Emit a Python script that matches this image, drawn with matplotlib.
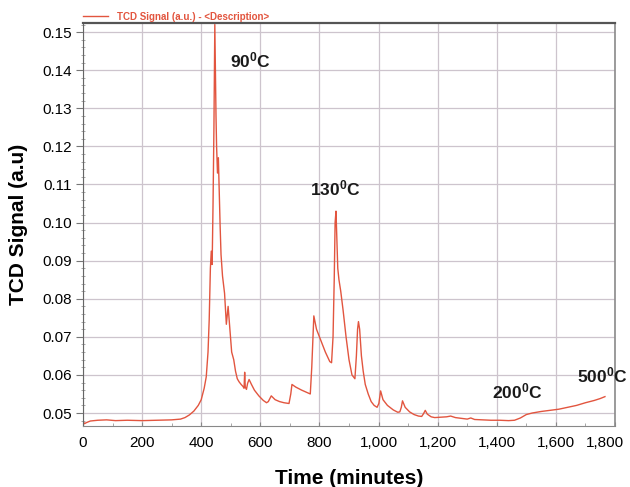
import matplotlib
matplotlib.use("Agg")
from matplotlib import pyplot as plt
from matplotlib.ticker import MultipleLocator, FuncFormatter

# TCD trace (time in minutes, signal in a.u.)
time = [0, 5, 12, 25, 50, 80, 110, 150, 200, 250, 300, 330, 345, 360, 375,
        390, 400, 410, 417, 423, 427, 431, 434, 437, 440, 443, 446, 448, 450,
        452, 455, 458, 461, 464, 467, 472, 479, 485, 491, 497, 503, 510, 516,
        522, 528, 535, 541, 545, 547, 549, 553, 557, 562, 570, 580, 595, 610,
        621, 627, 637, 650, 665, 680, 697, 703, 707, 720, 740, 760, 769, 774,
        778, 781, 790, 805, 820, 835, 841, 846, 850, 853, 856, 859, 862, 866,
        872, 880, 890, 900, 910, 920, 925, 929, 932, 936, 942, 948, 955, 965,
        975, 985, 995, 1001, 1007, 1015, 1030, 1050, 1065, 1072, 1077, 1081,
        1090, 1105, 1120, 1135, 1146, 1152, 1158, 1165, 1178, 1190, 1210, 1230,
        1244, 1260, 1280, 1300, 1312, 1325, 1350, 1380, 1410, 1440, 1460, 1480,
        1500, 1520, 1550, 1580, 1610, 1640, 1670, 1700, 1730, 1750, 1766]
signal = [0.0478, 0.0472, 0.0475, 0.0479, 0.0481, 0.0482, 0.0480, 0.0481,
          0.0480, 0.0481, 0.0482, 0.0484, 0.0488, 0.0495, 0.0505, 0.0520,
          0.0535, 0.0565, 0.0595, 0.0660, 0.0745, 0.0880, 0.0925, 0.0890,
          0.1050, 0.1250, 0.1520, 0.1400, 0.1280, 0.1200, 0.1130, 0.1170,
          0.1080, 0.0990, 0.0916, 0.0860, 0.0814, 0.0733, 0.0780, 0.0720,
          0.0660, 0.0640, 0.0610, 0.0590, 0.0582, 0.0575, 0.0570, 0.0565,
          0.0607, 0.0568, 0.0562, 0.0578, 0.0588, 0.0575, 0.0560, 0.0545,
          0.0533, 0.0527, 0.0530, 0.0545, 0.0535, 0.0530, 0.0527, 0.0525,
          0.0550, 0.0575, 0.0568, 0.0560, 0.0553, 0.0550, 0.0620, 0.0700,
          0.0755, 0.0720, 0.0690, 0.0660, 0.0635, 0.0632, 0.0700, 0.0850,
          0.1000, 0.1030, 0.0950, 0.0880, 0.0850, 0.0820, 0.0770, 0.0700,
          0.0640, 0.0600, 0.0590, 0.0650, 0.0720, 0.0740, 0.0720, 0.0650,
          0.0610, 0.0575, 0.0550, 0.0530, 0.0520, 0.0515, 0.0525, 0.0558,
          0.0535, 0.0520, 0.0508, 0.0502, 0.0503, 0.0515, 0.0532, 0.0515,
          0.0503, 0.0496, 0.0492, 0.0491, 0.0498, 0.0507, 0.0497, 0.0490,
          0.0488, 0.0489, 0.0490, 0.0492, 0.0488, 0.0486, 0.0484, 0.0487,
          0.0483, 0.0482, 0.0481, 0.0481, 0.0480, 0.0481, 0.0487, 0.0496,
          0.0500, 0.0504, 0.0507, 0.0510, 0.0515, 0.0520, 0.0527, 0.0533,
          0.0538, 0.0543]

# temperature labels and where they sit
temp_labels = ["90$^{0}$C", "130$^{0}$C", "200$^{0}$C", "500$^{0}$C"]
temp_x = [498, 854, 1470, 1671]
temp_y = [0.1425, 0.109, 0.0556, 0.0599]
temp_ha = ["left", "center", "center", "left"]

x_max = 1800

plt.rcParams["font.family"] = ["Liberation Sans", "DejaVu Sans"]
plt.rcParams["mathtext.fontset"] = "custom"
plt.rcParams["mathtext.rm"] = "Liberation Sans:bold"
plt.rcParams["mathtext.it"] = "Liberation Sans:bold"
plt.rcParams["mathtext.bf"] = "Liberation Sans:bold"

red = "#E2553F"

fig = plt.figure(figsize=(6.3, 4.87), dpi=100)
ax = fig.add_axes([83 / 630, 1 - 426 / 487, 532 / 630, 403 / 487])

ax.plot(time, signal, color=red, linewidth=1.0, label="TCD Signal (a.u.) - <Description>")

ax.set_xlim(0, x_max)
ax.set_ylim(0.04659, 0.1524)
ax.xaxis.set_major_locator(MultipleLocator(200))
ax.xaxis.set_minor_locator(MultipleLocator(100))
ax.yaxis.set_major_locator(MultipleLocator(0.01))
ax.yaxis.set_minor_locator(MultipleLocator(0.002))
# the last label is drawn separately, nudged left so it stays in the picture
ax.xaxis.set_major_formatter(FuncFormatter(
    lambda v, p: "" if round(v) >= x_max else "{:,}".format(int(round(v)))))
ax.yaxis.set_major_formatter(FuncFormatter(lambda v, p: "{:.2f}".format(v)))

ax.tick_params(axis="x", which="major", direction="in", length=3, labelsize=11, pad=7, color="#888888")
ax.tick_params(axis="x", which="minor", direction="in", length=2, color="#999999")
ax.tick_params(axis="y", which="major", direction="out", length=5, labelsize=11, pad=3, color="#777777")
ax.tick_params(axis="y", which="minor", direction="inout", length=3, color="#999999")

ax.annotate("{:,}".format(x_max), xy=(x_max, 0), xycoords=("data", "axes fraction"),
            xytext=(-7, -7), textcoords="offset points", ha="center", va="top",
            fontsize=11, color="black")

ax.grid(which="major", color="#cdc4cd", linewidth=0.9)
ax.set_axisbelow(True)

ax.spines["top"].set_color("#555555")
ax.spines["top"].set_linewidth(1.6)
ax.spines["right"].set_color("#8a8a8a")
ax.spines["right"].set_linewidth(1.2)
ax.spines["left"].set_color("#666666")
ax.spines["bottom"].set_color("#888888")

ax.set_xlabel("Time (minutes)", fontsize=15, fontweight="bold", labelpad=14)
ax.set_ylabel("TCD Signal (a.u)", fontsize=15, fontweight="bold", labelpad=10)

for lab, tx, ty, ha in zip(temp_labels, temp_x, temp_y, temp_ha):
    ax.text(tx, ty, lab, fontsize=12.5, fontweight="bold", ha=ha, va="center",
            color="#1a1a1a", clip_on=False)

ax.legend(loc="lower left", bbox_to_anchor=(0.0, 1.003), frameon=False,
          prop={"weight": "bold", "size": 7.0}, labelcolor=red,
          handlelength=2.6, handletextpad=0.9, borderpad=0, borderaxespad=0)

fig.savefig("out.png", dpi=100)
